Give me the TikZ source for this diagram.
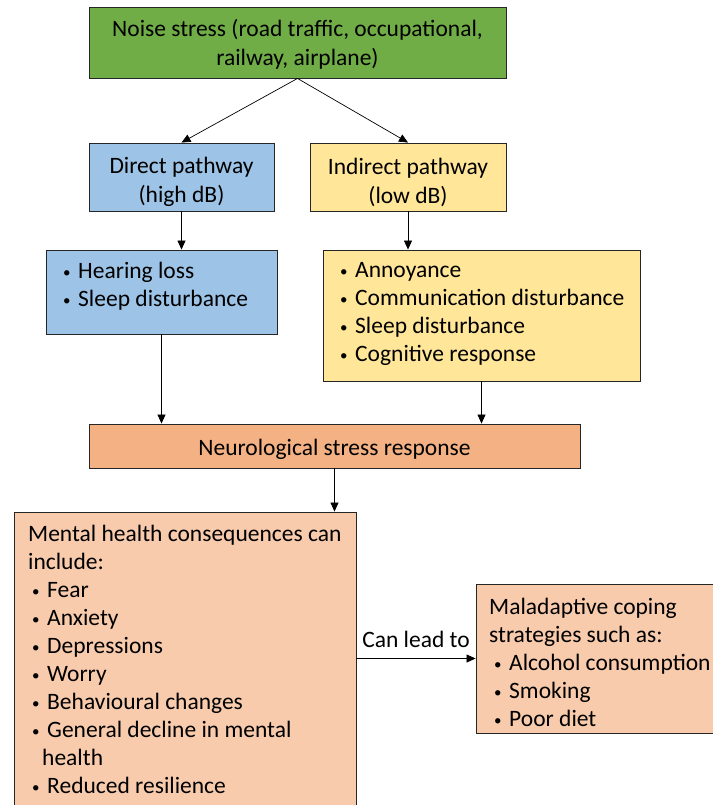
\documentclass[tikz,border=0pt]{standalone}
\usepackage{fontspec}
\setmainfont{Carlito}
\usetikzlibrary{arrows.meta}
\definecolor{noisegreen}{HTML}{70AD47}
\definecolor{directblue}{HTML}{9DC3E6}
\definecolor{indirectyellow}{HTML}{FFE699}
\definecolor{neuroorange}{HTML}{F4B183}
\definecolor{mentalpeach}{HTML}{F8CBAD}
\definecolor{edgegrey}{HTML}{262626}
\newcommand{\itm}{\makebox[15pt][l]{\raisebox{1pt}{\fontsize{15}{15}\selectfont\textbullet}}}
\begin{document}
\begin{tikzpicture}[x=1pt,y=-1pt,
    box/.style={draw=edgegrey, line width=0.9pt, inner sep=0pt},
    ctxt/.style={align=center, font=\fontsize{23.5}{29}\selectfont},
    txt/.style={inner sep=0pt, align=left, anchor=north west,
        font=\fontsize{23.5}{28}\selectfont, execute at begin node=\strut},
    arr/.style={-{Triangle[length=9pt,width=8pt]}, line width=0.7pt}]
    \useasboundingbox (0,0) rectangle (712,805);
    % boxes
    \node[box, fill=noisegreen, minimum width=417pt, minimum height=71pt] (noise) at (297.5,42.5) {};
    \node[box, fill=directblue, minimum width=185pt, minimum height=68pt] (direct) at (181.5,177) {};
    \node[box, fill=indirectyellow, minimum width=196pt, minimum height=68pt] (indirect) at (408,177) {};
    \node[box, fill=directblue, minimum width=231pt, minimum height=84pt] (hear) at (161.5,292) {};
    \node[box, fill=indirectyellow, minimum width=317pt, minimum height=131pt] (annoy) at (481.5,315.5) {};
    \node[box, fill=neuroorange, minimum width=491pt, minimum height=44pt] (neuro) at (334.5,446) {};
    \node[box, fill=mentalpeach, minimum width=342pt, minimum height=300pt] (mental) at (185,662) {};
    \node[box, fill=mentalpeach, minimum width=250pt, minimum height=149pt] (malad) at (601,658.5) {};
    % box texts
    \node[ctxt] (noiseT) at ([yshift=-1.5pt]noise.center) {Noise stress (road traffic, occupational,\\railway, airplane)};
    \node[ctxt] (directT) at ([yshift=-5pt]direct.center) {Direct pathway\\(high dB)};
    \node[ctxt] (indirectT) at ([yshift=-5pt]indirect.center) {Indirect pathway\\(low dB)};
    \node[ctxt] (neuroT) at ([yshift=-3pt]neuro.center) {Neurological stress response};
    \node[txt] (hearT) at (63,262) {\itm Hearing loss\\\itm Sleep disturbance};
    \node[txt] (annoyT) at (340,262) {\itm Annoyance\\\itm Communication disturbance\\\itm Sleep disturbance\\\itm Cognitive response};
    \node[txt] (mentalT) at (28,525) {Mental health consequences can\\include:\\
        \hspace*{4pt}\itm Fear\\\hspace*{4pt}\itm Anxiety\\\hspace*{4pt}\itm Depressions\\\hspace*{4pt}\itm Worry\\
        \hspace*{4pt}\itm Behavioural changes\\\hspace*{4pt}\itm General decline in mental\\\hspace*{14pt}health\\
        \hspace*{4pt}\itm Reduced resilience};
    \node[txt] (maladT) at (489,598) {Maladaptive coping\\strategies such as:\\
        \hspace*{5pt}\itm Alcohol consumption\\\hspace*{5pt}\itm Smoking\\\hspace*{5pt}\itm Poor diet};
    % arrows
    \draw[arr] (noise.south) -- (direct.north);
    \draw[arr] (noise.south) -- (indirect.north);
    \draw[arr] (direct.south) -- (direct.south |- hear.north);
    \draw[arr] (indirect.south) -- (indirect.south |- annoy.north);
    \draw[arr] (hear.south) -- (hear.south |- neuro.north);
    \draw[arr] (annoy.south) -- (annoy.south |- neuro.north);
    \draw[arr] (neuro.south) -- (neuro.south |- mental.north);
    \draw[arr] (malad.west -| mental.east) -- node[ctxt, above=7pt] (lead) {Can lead to} (malad.west);
\end{tikzpicture}
\end{document}
